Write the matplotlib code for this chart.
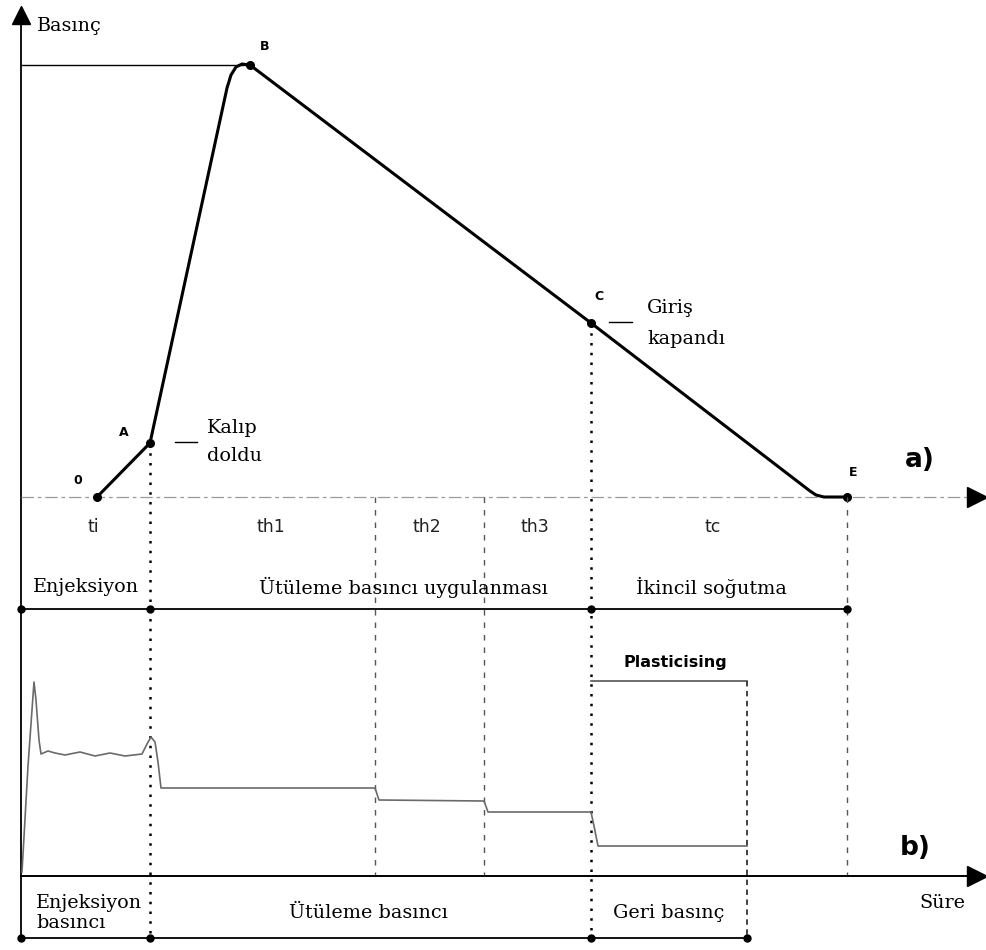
import matplotlib
matplotlib.use('Agg')
import matplotlib.pyplot as plt

# ---------------- data (time units, pressure units) ----------------
# panel a) cavity pressure curve: 0 -> A -> B -> C -> E
press_t = [76, 129, 206, 210, 215, 221, 229, 570, 789, 795, 803, 826]
press_p = [0, 54, 409, 422, 430, 433, 432, 174, 6, 2, 0, 0]
key_names = ['0', 'A', 'B', 'C', 'E']
key_t = [76, 129, 229, 570, 826]
key_p = [0, 54, 432, 174, 0]
p_max = 432

# panel b) hydraulic pressure signal
signal_t = [1, 7, 13, 15, 18, 20, 27, 34, 44, 59, 74, 89, 104, 121, 126, 130,
            134, 137, 140, 354, 358, 463, 467, 570, 573, 577, 726]
signal_s = [4, 110, 194, 176, 136, 122, 125, 123, 121, 124, 120, 123, 120, 122,
            132, 139, 134, 114, 88, 88, 76, 75, 64, 64, 50, 30, 30]
plast_t = [570, 726]
plast_level = 195

# phase boundaries
t_fill = 129      # A
t_h2 = 354
t_h3 = 463
t_gate = 570      # C
t_plast_end = 726
t_end = 826       # E

phase_labels = ['ti', 'th1', 'th2', 'th3', 'tc']
phase_label_t = [72, 250, 406, 514, 692]
stage_labels = ['Enjeksiyon', 'Ütüleme basıncı uygulanması', 'İkincil soğutma']
stage_label_t = [65, 382, 690]
bottom_labels = ['Ütüleme basıncı', 'Geri basınç']
bottom_label_t = [347, 648]

# ---------------- figure ----------------
fig = plt.figure(figsize=(9.87, 9.5), dpi=100)
ax = fig.add_axes([0, 0, 1, 1])
ax.set_xlim(-21, 966)
ax.set_ylim(-453, 497)
ax.axis('off')
axb = fig.add_axes([0, 0, 1, 1])
axb.set_xlim(-21, 966)
axb.set_ylim(-74, 876)
axb.axis('off')
axb.patch.set_alpha(0)

SERIF = 'DejaVu Serif'
SANS = 'DejaVu Sans'
FS = 13.8

# left axis with arrow
ax.plot([0, 0], [-441, 478], color='black', lw=1.3)
ax.plot([0], [482], marker='^', ms=13, color='black')
ax.text(16, 471, 'Basınç', family=SERIF, fontsize=FS, ha='left', va='center')

# max pressure line
ax.plot([0, 229], [p_max, p_max], color='black', lw=1.0)

# baseline a)
ax.plot([0, 950], [0, 0], color='#9a9a9a', lw=0.9, ls=(0, (10, 3, 3, 3)))
ax.plot([956], [0], marker='>', ms=14, color='black')
ax.text(899, 37, 'a)', family=SANS, fontweight='bold', fontsize=19, ha='center', va='center')

# pressure curve
ax.plot(press_t, press_p, color='black', lw=2.2, solid_joinstyle='round')
ax.plot(key_t, key_p, 'o', color='black', ms=5.5)
key_offsets = [(-19, 16), (-26, 11), (15, 18), (8, 27), (6, 24)]
for n, t, p, (dx, dy) in zip(key_names, key_t, key_p, key_offsets):
    ax.text(t + dx, p + dy, n, family=SANS, fontweight='bold', fontsize=9,
            ha='center', va='center')

# annotations
ax.plot([154, 176], [55, 55], color='black', lw=1.0)
ax.text(186, 69, 'Kalıp', family=SERIF, fontsize=FS, ha='left', va='center')
ax.text(186, 41, 'doldu', family=SERIF, fontsize=FS, ha='left', va='center')
ax.plot([588, 611], [175, 175], color='black', lw=1.0)
ax.text(626, 189, 'Giriş', family=SERIF, fontsize=FS, ha='left', va='center')
ax.text(626, 158, 'kapandı', family=SERIF, fontsize=FS, ha='left', va='center')

# vertical phase lines
dot = (0, (1, 2.9))
ax.plot([t_fill, t_fill], [54, -441], color='black', lw=1.8, ls=dot)
ax.plot([t_gate, t_gate], [174, -441], color='black', lw=1.8, ls=dot)
for t in (t_h2, t_h3, t_end):
    ax.plot([t, t], [0, -379], color='#555555', lw=1.0, ls=(0, (4, 5)))

# row of time labels
for lab, t in zip(phase_labels, phase_label_t):
    ax.text(t, -30, lab, family=SANS, fontsize=12.5, ha='center', va='center',
            color='#222222')
# stage labels
for lab, t in zip(stage_labels, stage_label_t):
    ax.text(t, -90, lab, family=SERIF, fontsize=FS, ha='center', va='center')
ax.plot([0, t_end], [-112, -112], color='black', lw=1.3)
ax.plot([0, t_fill, t_gate, t_end], [-112] * 4, 'o', color='black', ms=5)

# panel b)
axb.plot(signal_t, signal_s, color='#6a6a6a', lw=1.2)
axb.plot(plast_t, [plast_level, plast_level], color='#555555', lw=1.2)
axb.plot([t_plast_end, t_plast_end], [plast_level, -62], color='#333333', lw=1.3,
         ls=(0, (3, 2.5)))
axb.text(654, 214, 'Plasticising', family=SANS, fontweight='bold', fontsize=11.5,
         ha='center', va='center')
axb.text(894, 28, 'b)', family=SANS, fontweight='bold', fontsize=19, ha='center', va='center')

# time axis
axb.plot([0, 950], [0, 0], color='black', lw=1.4)
axb.plot([956], [0], marker='>', ms=14, color='black')
axb.text(921, -27, 'Süre', family=SERIF, fontsize=FS, ha='center', va='center')

# bottom labels
axb.text(15, -27, 'Enjeksiyon', family=SERIF, fontsize=FS, ha='left', va='center')
axb.text(15, -47, 'basıncı', family=SERIF, fontsize=FS, ha='left', va='center')
for lab, t in zip(bottom_labels, bottom_label_t):
    axb.text(t, -37, lab, family=SERIF, fontsize=FS, ha='center', va='center')
axb.plot([0, t_plast_end], [-62, -62], color='black', lw=1.3)
axb.plot([0, t_fill, t_gate, t_plast_end], [-62] * 4, 'o', color='black', ms=5)

fig.savefig('out.png', dpi=100)
